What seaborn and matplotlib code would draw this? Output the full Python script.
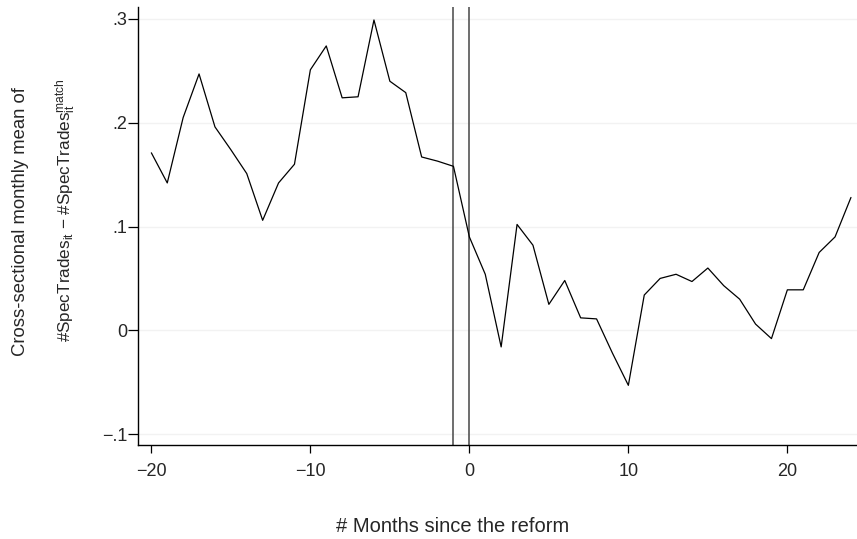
# monthly mean difference in spec trades around the reform
import numpy as np
import pandas as pd
import seaborn as sns
from matplotlib import pyplot as plt

# data
months = list(range(-20, 25))
mean_diff = [0.171, 0.142, 0.205, 0.247, 0.196, 0.174, 0.151, 0.106, 0.142, 0.160,
             0.251, 0.274, 0.224, 0.225, 0.299, 0.240, 0.229, 0.167, 0.163, 0.158,
             0.090, 0.054, -0.016, 0.102, 0.082, 0.025, 0.048, 0.012, 0.011, -0.022,
             -0.053, 0.034, 0.050, 0.054, 0.047, 0.060, 0.043, 0.030, 0.006, -0.008,
             0.039, 0.039, 0.075, 0.090, 0.128]
reform_lines = [-1, 0]
x_ticks = [-20, -10, 0, 10, 20]
y_ticks = [-0.1, 0, 0.1, 0.2, 0.3]
y_ticklabels = ["\u2212.1", "0", ".1", ".2", ".3"]

sns.set_theme(style="white")
plt.rcParams['font.family'] = ['Liberation Sans', 'DejaVu Sans']
plt.rcParams['mathtext.fontset'] = 'custom'
plt.rcParams['mathtext.rm'] = 'Liberation Sans'
plt.rcParams['mathtext.it'] = 'Liberation Sans'

df = pd.DataFrame({'month': months, 'diff': mean_diff})

fig = plt.figure(figsize=(8.57, 5.39), dpi=100)
ax = fig.add_axes([0.1614, 0.1744, 0.8386, 0.8126])

# faint horizontal grid
for yv in y_ticks:
    ax.axhline(yv, color='#f2f2f2', lw=1.0, zorder=0)

sns.lineplot(data=df, x='month', y='diff', color='black', lw=0.9, ax=ax)
for xv in reform_lines:
    ax.axvline(xv, color='#555555', lw=1.2, zorder=1)

ax.set_xlim(-20.82, 24.38)
ax.set_ylim(-0.1105, 0.3115)
ax.set_xticks(x_ticks)
ax.set_xticklabels([str(t).replace('-', '\u2212') for t in x_ticks])
ax.set_yticks(y_ticks)
ax.set_yticklabels(y_ticklabels)
ax.tick_params(axis='both', which='both', direction='out', width=0.9,
               color='black', labelsize=13, bottom=True, left=True)
ax.tick_params(axis='x', length=6, pad=7)
ax.tick_params(axis='y', length=7, pad=1)
for side in ['top', 'right']:
    ax.spines[side].set_visible(False)
for side in ['left', 'bottom']:
    ax.spines[side].set_color('black')
    ax.spines[side].set_linewidth(1.0)

ax.set_xlabel('')
ax.set_ylabel('')
fig.text(453 / 857, 1 - 527 / 539, '# Months since the reform', ha='center', va='center', fontsize=14.5)
fig.text(21 / 857, 1 - 222 / 539, 'Cross-sectional monthly mean of', rotation=90,
         ha='center', va='center', fontsize=13.3)
fig.text(66 / 857, 1 - 210 / 539,
         r'#SpecTrades$_{\mathrm{it}}$ $-$ #SpecTrades$_{\mathrm{it}}^{\mathrm{match}}$',
         rotation=90, ha='center', va='center', fontsize=12.3)

fig.savefig('out.png', dpi=100)
